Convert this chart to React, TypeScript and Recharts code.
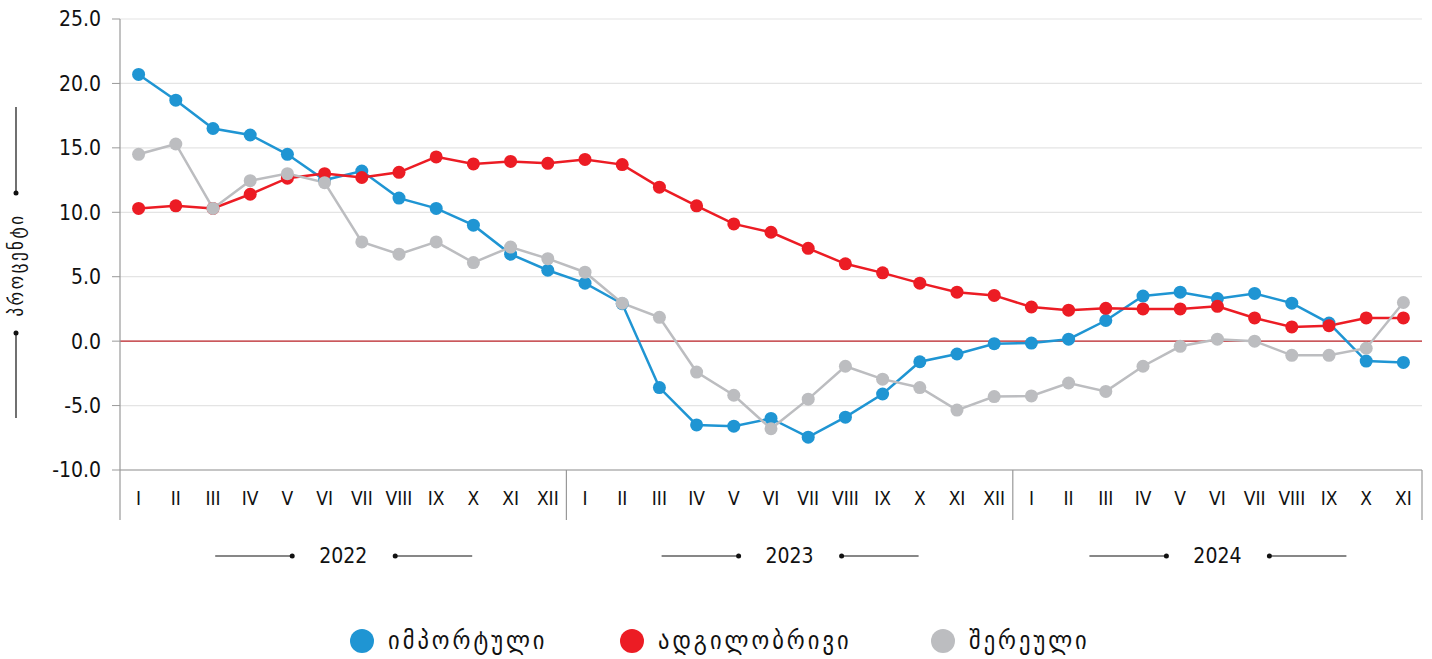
import React from "react";
import { LineChart, Line, XAxis, YAxis, CartesianGrid, ReferenceLine, Legend } from "recharts";

const years = ["2022", "2023", "2024"];
const monthNames = ["I", "II", "III", "IV", "V", "VI", "VII", "VIII", "IX", "X", "XI", "XII"];
const monthsPerYear = [12, 12, 11];
const yTicks = [-10, -5, 0, 5, 10, 15, 20, 25];

const imported = [
  20.7, 18.7, 16.5, 16.0, 14.5, 12.5, 13.2, 11.1, 10.3, 9.0, 6.75, 5.5,
  4.5, 2.9, -3.6, -6.5, -6.6, -6.0, -7.45, -5.9, -4.1, -1.6, -1.0, -0.2,
  -0.15, 0.15, 1.6, 3.5, 3.8, 3.3, 3.7, 2.95, 1.4, -1.55, -1.65,
];
const local = [
  10.3, 10.5, 10.3, 11.4, 12.65, 13.0, 12.7, 13.1, 14.3, 13.75, 13.95, 13.8,
  14.1, 13.7, 11.95, 10.5, 9.1, 8.45, 7.2, 6.0, 5.3, 4.5, 3.8, 3.55,
  2.65, 2.4, 2.55, 2.5, 2.5, 2.7, 1.8, 1.1, 1.2, 1.8, 1.8,
];
const mixed = [
  14.5, 15.3, 10.3, 12.45, 13.0, 12.3, 7.7, 6.75, 7.7, 6.1, 7.3, 6.4,
  5.35, 2.95, 1.85, -2.4, -4.2, -6.8, -4.5, -1.95, -2.95, -3.6, -5.35, -4.3,
  -4.25, -3.25, -3.9, -1.95, -0.4, 0.15, 0.0, -1.1, -1.1, -0.55, 3.0,
];

const seriesNames = ["იმპორტული", "ადგილობრივი", "შერეული"];
const COLORS = ["#1f95d3", "#ec1c24", "#bcbdc0"];

const labels: string[] = [];
years.forEach((_, yi) => {
  for (let m = 0; m < monthsPerYear[yi]; m++) labels.push(monthNames[m]);
});

const data = labels.map((label, i) => ({
  key: i,
  label,
  imported: imported[i],
  local: local[i],
  mixed: mixed[i],
}));

const W = 1432;
const H = 659;
const LEFT = 120;
const RIGHT = 1422;
const TOP = 19;
const BOTTOM = 470;
const FONT = "'DejaVu Sans Condensed', 'DejaVu Sans', sans-serif";

const MonthTick = (props: any) => {
  const { x, payload } = props;
  return (
    <text x={x} y={BOTTOM + 28} textAnchor="middle" dominantBaseline="central" fontSize={19} fill="#111" fontFamily={FONT}>
      {labels[payload.value]}
    </text>
  );
};

const Decor = () => {
  const band = (RIGHT - LEFT) / data.length;
  let start = 0;
  const groups = monthsPerYear.map((n, i) => {
    const g = { year: years[i], x0: LEFT + start * band, x1: LEFT + (start + n) * band };
    start += n;
    return g;
  });
  const yMid = 265;
  return (
    <svg width={W} height={H} style={{ position: "absolute", left: 0, top: 0, pointerEvents: "none" }}>
      <line x1={LEFT} x2={LEFT} y1={BOTTOM} y2={520} stroke="#999" strokeWidth={1.2} />
      {groups.map((g) => {
        const cx = (g.x0 + g.x1) / 2;
        return (
          <g key={g.year}>
            <line x1={g.x1} x2={g.x1} y1={BOTTOM} y2={520} stroke="#999" strokeWidth={1.2} />
            <line x1={cx - 128} x2={cx - 51} y1={556} y2={556} stroke="#111" strokeWidth={1.2} />
            <circle cx={cx - 51} cy={556} r={2.5} fill="#111" />
            <line x1={cx + 52} x2={cx + 129} y1={556} y2={556} stroke="#111" strokeWidth={1.2} />
            <circle cx={cx + 52} cy={556} r={2.5} fill="#111" />
            <text x={cx} y={556} textAnchor="middle" dominantBaseline="central" fontSize={21} fill="#111" fontFamily={FONT}>
              {g.year}
            </text>
          </g>
        );
      })}
      <line x1={16} x2={16} y1={107} y2={193} stroke="#111" strokeWidth={1.2} />
      <circle cx={16} cy={193} r={2.5} fill="#111" />
      <line x1={16} x2={16} y1={333} y2={418} stroke="#111" strokeWidth={1.2} />
      <circle cx={16} cy={333} r={2.5} fill="#111" />
      <text
        x={16}
        y={yMid}
        transform={`rotate(-90 16 ${yMid})`}
        textAnchor="middle"
        dominantBaseline="central"
        fontSize={19}
        letterSpacing={2.5}
        fill="#111"
        fontFamily={FONT}
      >
        პროცენტი
      </text>
    </svg>
  );
};

const renderLegend = () => (
  <div style={{ position: "relative", height: 30, fontFamily: FONT, fontSize: 25, letterSpacing: 3, color: "#111" }}>
    {seriesNames.map((n, i) => (
      <div key={n} style={{ position: "absolute", left: [350, 620, 931][i], top: 0, display: "flex", alignItems: "center", gap: 14 }}>
        <span style={{ width: 24, height: 24, borderRadius: 12, background: COLORS[i], display: "inline-block" }} />
        <span>{n}</span>
      </div>
    ))}
  </div>
);

export default function App() {
  const keys = ["imported", "local", "mixed"];
  return (
    <div style={{ position: "absolute", left: 0, top: 0, width: W, height: H, background: "#fff" }}>
      <LineChart width={W} height={H} data={data} margin={{ top: TOP, right: W - RIGHT, bottom: 0, left: 0 }}>
        <CartesianGrid vertical={false} stroke="#e4e4e4" strokeWidth={1.2} />
        <XAxis
          dataKey="key"
          type="category"
          scale="band"
          height={H - BOTTOM}
          axisLine={{ stroke: "#999", strokeWidth: 1.2 }}
          tickLine={false}
          tick={<MonthTick />}
          interval={0}
        />
        <YAxis
          width={LEFT}
          domain={[-10, 25]}
          ticks={yTicks}
          tickFormatter={(v: number) => v.toFixed(1)}
          axisLine={{ stroke: "#999", strokeWidth: 1.2 }}
          tickLine={{ stroke: "#999" }}
          tickSize={8}
          tickMargin={11}
          tick={{ fontSize: 21, fill: "#111", fontFamily: FONT }}
          allowDataOverflow
        />
        <ReferenceLine y={0} stroke="#c1272d" strokeWidth={1.2} />
        {keys.map((k, i) => (
          <Line
            key={k}
            dataKey={k}
            name={seriesNames[i]}
            stroke={COLORS[i]}
            strokeWidth={2.5}
            dot={{ r: 6.5, fill: COLORS[i], stroke: "none" }}
            activeDot={false}
            isAnimationActive={false}
          />
        ))}
        <Legend
          verticalAlign="middle"
          layout="horizontal"
          content={renderLegend}
          wrapperStyle={{ top: 626, left: 0, width: W }}
        />
      </LineChart>
      <Decor />
    </div>
  );
}
